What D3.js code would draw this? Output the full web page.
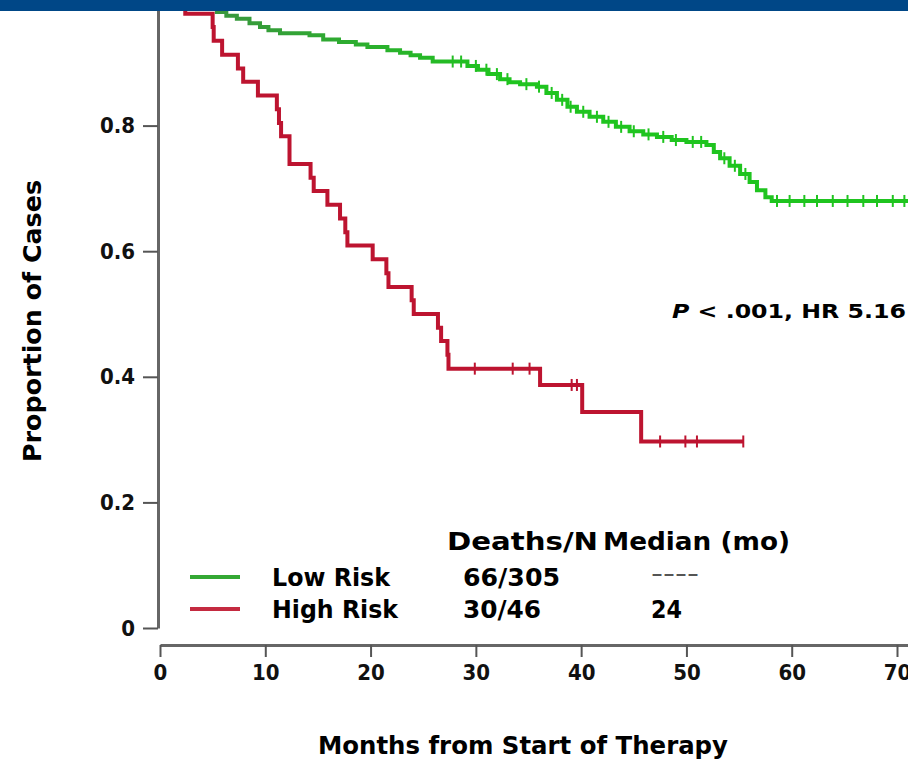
<!DOCTYPE html>
<html>
<head>
<meta charset="utf-8">
<script src="https://cdn.jsdelivr.net/npm/d3@7"></script>
<style>
  body { margin: 0; background: #fff; }
  svg { display: block; font-family: "DejaVu Sans Condensed", "DejaVu Sans", sans-serif; font-weight: bold; }
</style>
</head>
<body>
<div id="chart"></div>
<script>
// Low risk curve (months, proportion)
const lowTimes = [0, 4.8, 5.4, 6.3, 7.3, 8.5, 9.5, 10.3, 11.4, 14.2, 15.5, 17.0, 18.6, 19.7, 21.6, 22.8, 23.8, 24.7, 25.9, 29.2, 30.2, 31.2, 32.3, 33.2, 34.2, 35.8, 36.7, 37.7, 38.7, 39.6, 40.8, 42.1, 43.3, 44.6, 45.9, 47.2, 48.6, 50.0, 51.9, 52.6, 53.2, 54.1, 55.1, 56.0, 56.7, 57.5, 58.1, 71.5];
const lowSurv = [1, 0.99, 0.981, 0.975, 0.97, 0.963, 0.957, 0.952, 0.947, 0.944, 0.937, 0.933, 0.929, 0.925, 0.92, 0.916, 0.912, 0.908, 0.902, 0.895, 0.889, 0.882, 0.874, 0.869, 0.866, 0.862, 0.852, 0.841, 0.83, 0.822, 0.814, 0.806, 0.798, 0.791, 0.786, 0.782, 0.777, 0.774, 0.769, 0.758, 0.748, 0.736, 0.723, 0.71, 0.697, 0.686, 0.68, 0.68];
const lowCensor = [27.8, 28.6, 30, 31, 32, 33, 34.8, 36, 37.2, 38.2, 39, 40.2, 41.5, 42.6, 43.8, 45, 46.4, 47.8, 49, 50.6, 51.4, 53.6, 54.6, 55.6, 58.6, 59.8, 61.2, 62.4, 63.9, 65.3, 66.8, 68.1, 69.6, 70.7];

// High risk curve
const highTimes = [0, 2.4, 5.0, 5.1, 5.9, 7.4, 7.9, 9.3, 11.1, 11.3, 11.5, 12.3, 14.3, 14.6, 15.9, 17.1, 17.6, 17.8, 20.2, 21.5, 21.7, 23.9, 24.1, 26.4, 26.7, 27.3, 27.4, 36.1, 40.1, 45.7, 55.4];
const highSurv = [1, 0.978, 0.957, 0.935, 0.913, 0.891, 0.87, 0.848, 0.826, 0.804, 0.783, 0.739, 0.717, 0.696, 0.674, 0.652, 0.63, 0.609, 0.587, 0.565, 0.543, 0.522, 0.5, 0.478, 0.457, 0.435, 0.413, 0.387, 0.344, 0.297, 0.297];
const highCensor = [29.9, 33.5, 35.1, 39.1, 39.6, 47.5, 49.9, 51.0, 55.4];

const xTicks = [0, 10, 20, 30, 40, 50, 60, 70];
const yTicks = [0, 0.2, 0.4, 0.6, 0.8];

const groups = ["Low Risk", "High Risk"];
const deathsN = ["66/305", "30/46"];
const medians = ["----", "24"];
const colors = ["url(#greenGrad)", "#bd1430"];
const legendColors = ["#34a834", "#c42a40"];

const W = 908, H = 761;

const svg = d3.select("#chart").append("svg")
  .attr("width", W)
  .attr("height", H);

// green gets brighter along the curve, like the reference
const grad = svg.append("defs").append("linearGradient")
  .attr("id", "greenGrad")
  .attr("gradientUnits", "userSpaceOnUse")
  .attr("x1", 200).attr("x2", 500).attr("y1", 0).attr("y2", 0);
grad.append("stop").attr("offset", "0%").attr("stop-color", "#3b9440");
grad.append("stop").attr("offset", "100%").attr("stop-color", "#1fc41f");

const x = d3.scaleLinear().domain([0, 70]).range([160, 897]);
const y = d3.scaleLinear().domain([0, 1]).range([628, 0]);

// x axis (offset below the plot)
const xAxis = svg.append("g")
  .attr("transform", "translate(0,645)")
  .call(d3.axisBottom(d3.scaleLinear().domain([0, 72]).range([x(0), x(72)]))
    .tickValues(xTicks).tickSize(12).tickSizeOuter(0).tickPadding(7)
    .tickFormat(d3.format("d")));

// y axis
const yAxis = svg.append("g")
  .attr("transform", "translate(158,0)")
  .call(d3.axisLeft(d3.scaleLinear().domain([0, 1.02]).range([y(0), y(1.02)]))
    .tickValues(yTicks).tickSize(15).tickSizeOuter(0).tickPadding(8)
    .tickFormat(d => d === 0 ? "0" : d3.format(".1f")(d)));

[xAxis, yAxis].forEach(g => {
  g.select(".domain").attr("stroke", "#666").attr("stroke-width", 3);
  g.selectAll(".tick line").attr("stroke", "#555").attr("stroke-width", 2);
  g.selectAll(".tick text").attr("fill", "#111")
    .style("font-size", "22px").style("font-weight", "bold")
    .style("font-family", "DejaVu Sans Condensed, DejaVu Sans");
});

// axis titles
svg.append("text")
  .attr("x", 318).attr("y", 754)
  .attr("textLength", 410).attr("lengthAdjust", "spacingAndGlyphs")
  .style("font-size", "24px")
  .text("Months from Start of Therapy");

svg.append("text")
  .attr("transform", "translate(41,462) rotate(-90)")
  .attr("textLength", 282).attr("lengthAdjust", "spacingAndGlyphs")
  .style("font-size", "24px")
  .text("Proportion of Cases");

// survival curves
const line = d3.line()
  .x(d => x(d[0]))
  .y(d => y(d[1]))
  .curve(d3.curveStepAfter);

const series = [
  { times: lowTimes, surv: lowSurv, censor: lowCensor },
  { times: highTimes, surv: highSurv, censor: highCensor }
];

function survAt(s, t) {
  let v = s.surv[0];
  for (let i = 0; i < s.times.length; i++) {
    if (s.times[i] <= t) v = s.surv[i];
  }
  return v;
}

series.forEach((s, i) => {
  svg.append("path")
    .datum(s.times.map((t, j) => [t, s.surv[j]]))
    .attr("fill", "none")
    .attr("stroke", colors[i])
    .attr("stroke-width", 4)
    .attr("d", line);

  svg.selectAll(".censor" + i)
    .data(s.censor)
    .enter()
    .append("line")
    .attr("x1", d => x(d)).attr("x2", d => x(d))
    .attr("y1", d => y(survAt(s, d)) - 6)
    .attr("y2", d => y(survAt(s, d)) + 6)
    .attr("stroke", colors[i])
    .attr("stroke-width", 2);
});

// p value
const pText = svg.append("text")
  .attr("x", 672).attr("y", 318)
  .attr("textLength", 234).attr("lengthAdjust", "spacingAndGlyphs")
  .style("font-size", "20px");
pText.append("tspan").style("font-style", "italic").text("P");
pText.append("tspan").text(" < .001, HR 5.16");

// legend table
function label(txt, xx, yy, len, size) {
  return svg.append("text")
    .attr("x", xx).attr("y", yy)
    .attr("textLength", len).attr("lengthAdjust", "spacingAndGlyphs")
    .style("font-size", size + "px")
    .text(txt);
}

label("Deaths/N", 447, 550, 151, 24);
label("Median (mo)", 603, 550, 187, 24);

const colX = [272, 463, 651];
const colLen = [[118, 97, 48], [126, 78, 31]];

groups.forEach((g, i) => {
  const yy = 577 + i * 32;
  svg.append("line")
    .attr("x1", 190).attr("x2", 240)
    .attr("y1", yy).attr("y2", yy)
    .attr("stroke", legendColors[i]).attr("stroke-width", 4);
  label(g, colX[0], yy + 9, colLen[i][0], 24);
  label(deathsN[i], colX[1], yy + 9, colLen[i][1], 24);
  if (i === 0) {
    label(medians[i], colX[2], yy + 2, colLen[i][2], 14).attr("fill", "#555");
  } else {
    label(medians[i], colX[2], yy + 9, colLen[i][2], 24);
  }
});

// header band
svg.append("rect")
  .attr("x", 0).attr("y", 0)
  .attr("width", W).attr("height", 11)
  .attr("fill", "#004787");
</script>
</body>
</html>
